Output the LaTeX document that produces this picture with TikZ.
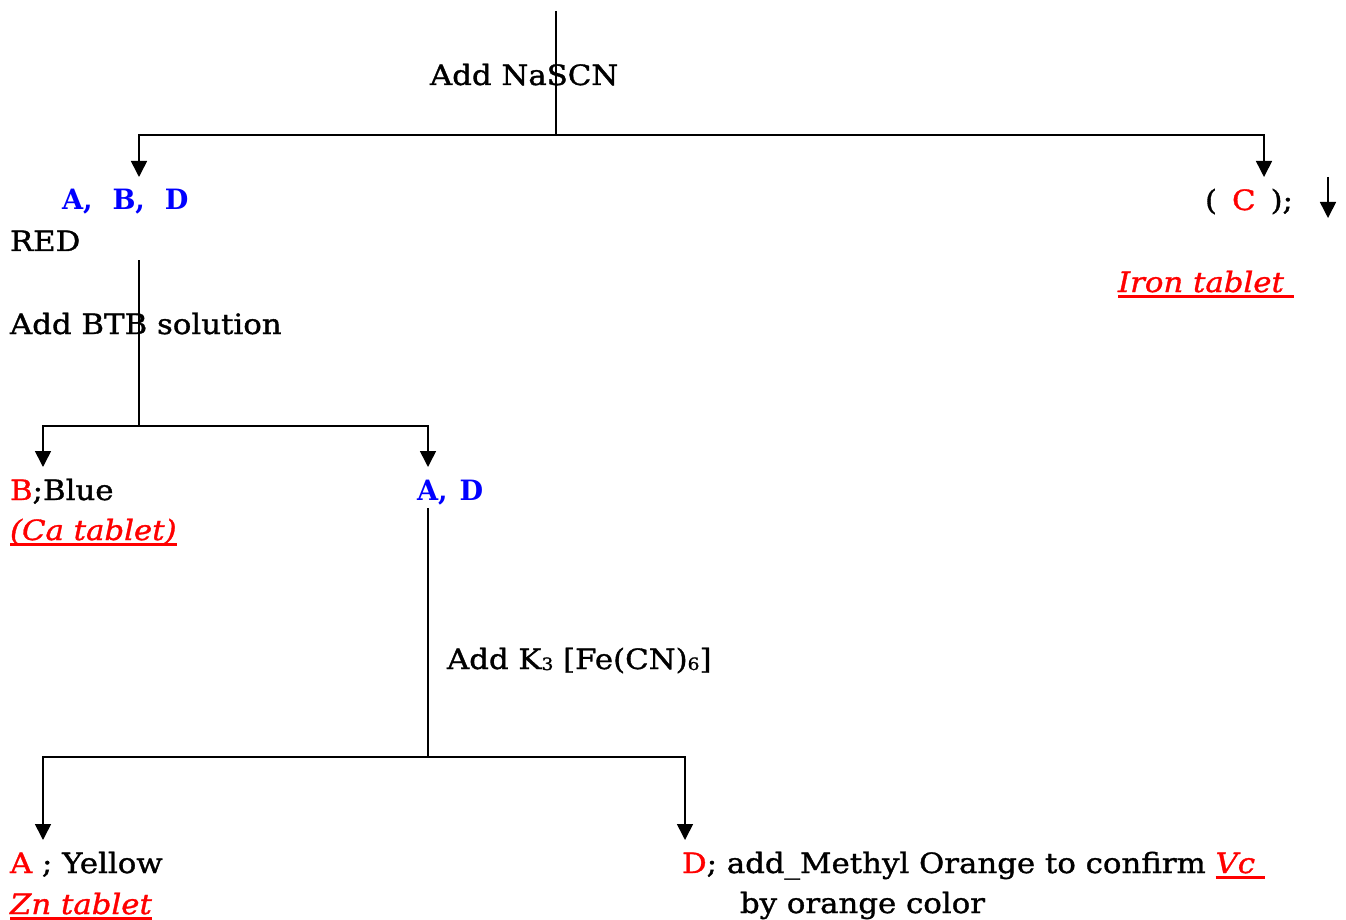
\documentclass[tikz,border=0pt]{standalone}
\usepackage{fontspec}
\setmainfont{DejaVu Serif}[FakeStretch=1.1,UprightFeatures={FakeBold=1.2},ItalicFeatures={FakeBold=1.2}]
\usetikzlibrary{arrows.meta}
\newcommand{\mysub}[1]{{\fontsize{17}{17}\selectfont\raisebox{-1pt}{#1}}}
\newcommand{\myul}[1]{\setbox0\hbox{#1}\rlap{\rule[-5.5pt]{\wd0}{2.2pt}}\box0}
\begin{document}
\begin{tikzpicture}[x=1pt,y=-1pt,
  txt/.style={anchor=base west,inner sep=0pt,outer sep=0pt,font=\fontsize{28}{32}\selectfont},
  bluebold/.style={txt,text={rgb,255:red,0;green,0;blue,255},font=\fontsize{28}{32}\selectfont\bfseries\addfontfeature{FakeStretch=0.97}},
  redit/.style={txt,text={rgb,255:red,255;green,0;blue,0}},
  conn/.style={line width=1.6pt},
  arr/.style={conn,-{Triangle[width=16pt,length=16pt]}},
]
\useasboundingbox (0,0) rectangle (1346,920);
% texts
\node[txt] (nascn) at (430,85) {Add NaSCN};
\node[bluebold] (abd) at (62,210) {A,\hspace{20pt}B,\hspace{20pt}D};
\node[txt] (red) at (10,251) {RED};
\node[txt] (btb) at (10,334) {Add BTB solution};
\node[txt] (bblue) at (10,500) {\textcolor{red}{B};Blue};
\node[redit] (ca) at (10,540) {\myul{\itshape (Ca tablet)}};
\node[bluebold] (ad) at (417,500) {A,\hspace{12pt}D};
\node[txt] (k3) at (447,669) {Add K\mysub{3} [Fe(CN)\mysub{6}]};
\node[txt] (ayel) at (10,873) {\textcolor{red}{A} ; Yellow};
\node[redit] (zn) at (10,914) {\myul{\itshape Zn tablet}};
\node[txt] (dmo) at (682,873) {\textcolor{red}{D}; add\_Methyl Orange to confirm \textcolor{red}{\myul{\itshape Vc\ }}};
\node[txt] (byor) at (740,913) {by orange color};
\node[txt] (cc) at (1205,210) {(\hspace{15pt}\textcolor{red}{C}\hspace{15pt});};
\node[redit] (iron) at (1118,292) {\myul{\itshape Iron tablet\ }};
% connectors
\coordinate (top) at (556,11);
\coordinate (j1) at (556,135);
\coordinate (t1) at (139,177);
\coordinate (t2) at (1264,177);
\draw[conn] (top) -- (j1);
\draw[arr] (j1) -| (t1);
\draw[arr] (j1) -| (t2);
\coordinate (s2) at (139,260);
\coordinate (j2) at (139,426);
\coordinate (t3) at (43,467);
\coordinate (t4) at (428,467);
\draw[conn] (s2) -- (j2);
\draw[arr] (j2) -| (t3);
\draw[arr] (j2) -| (t4);
\coordinate (s3) at (428,508);
\coordinate (j3) at (428,757);
\coordinate (t5) at (43,840);
\coordinate (t6) at (685,840);
\draw[conn] (s3) -- (j3);
\draw[arr] (j3) -| (t5);
\draw[arr] (j3) -| (t6);
\coordinate (lone1) at (1328,177);
\coordinate (lone2) at (1328,218);
\draw[arr] (lone1) -- (lone2);
\end{tikzpicture}
\end{document}
